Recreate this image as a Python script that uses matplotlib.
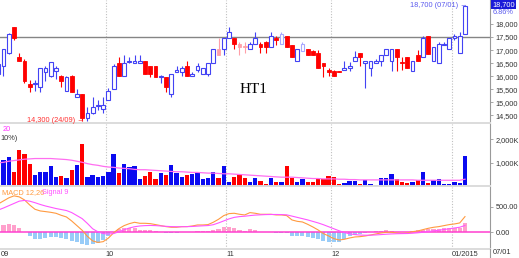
import numpy as np
import matplotlib
matplotlib.use("Agg")
import matplotlib.pyplot as plt
from matplotlib.lines import Line2D

# daily bars, first one is cut by the left edge
opens = [16100, 16400, 16900, 17900, 16750, 16600, 15700, 15700, 15600, 16150,
         16000, 16200, 16000, 15450, 16000, 15200, 15300, 14400, 14600, 14850,
         14750, 15100, 15500, 16500, 16000, 16550, 16500, 16500, 16600, 16400,
         16400, 15950, 15950, 15300, 16150, 16150, 16400, 16000, 16250, 16100,
         16100, 16500, 17050, 17050, 17450, 17450, 17250, 17150, 17050, 17250,
         17250, 17300, 17100, 17450, 17250, 17550, 17200, 16600, 16950, 17050,
         16950, 16900, 16500, 16250, 16200, 16200, 16250, 16300, 16600, 16900,
         16500, 16300, 16500, 16600, 16800, 16600, 17050, 16550, 16750, 16200,
         16800, 16750, 17550, 16600, 16500, 17200, 17050, 17450, 16900, 17600]
highs = [16500, 17050, 17650, 17900, 16900, 16650, 15850, 15850, 16300, 16400,
         16550, 16400, 16050, 16000, 16050, 15500, 15300, 14800, 15200, 15100,
         15200, 15550, 16450, 16750, 16800, 16750, 16800, 16800, 16600, 16400,
         16400, 16050, 15950, 16100, 16400, 16400, 16600, 16150, 16500, 16300,
         16500, 17050, 17450, 17450, 17900, 17450, 17300, 17300, 17300, 17700,
         17300, 17350, 17700, 17550, 17700, 17550, 17200, 17050, 17300, 17050,
         17000, 17000, 16500, 16300, 16250, 16200, 16600, 16550, 16950, 16900,
         16600, 16600, 16650, 16800, 17050, 17050, 17050, 16750, 16750, 16600,
         17000, 17550, 17550, 17100, 17300, 17300, 17450, 17600, 17700, 18700]
lows = [16000, 16000, 16850, 17400, 16600, 15750, 15400, 15450, 15400, 15800,
        15950, 15900, 15600, 15450, 15400, 15200, 14300, 14300, 14550, 14700,
        14600, 15100, 15500, 16000, 16000, 16500, 16500, 16500, 16100, 15950,
        15950, 15750, 15400, 15200, 16150, 16000, 16000, 16000, 16150, 16100,
        16000, 16500, 16800, 16800, 17450, 17050, 16800, 16900, 17050, 17250,
        16900, 16900, 17100, 17200, 17250, 17100, 16750, 16600, 16950, 16800,
        16800, 16300, 15950, 16000, 16000, 16150, 16250, 16200, 16600, 16400,
        15550, 16000, 16500, 16400, 16800, 16200, 16200, 16250, 16300, 16200,
        16600, 16750, 16850, 16600, 16500, 17200, 17050, 17400, 16900, 17600]
closes = [16450, 17050, 17600, 17450, 16600, 15800, 15600, 15750, 16300, 16300,
          16550, 16300, 15800, 15950, 15400, 15300, 14400, 14600, 14800, 14900,
          14900, 15450, 16400, 16000, 16500, 16600, 16600, 16600, 16100, 16100,
          15950, 16000, 15600, 16100, 16250, 16300, 16000, 16100, 16400, 16300,
          16500, 17050, 16800, 17450, 17700, 17250, 17100, 17100, 17250, 17450,
          17100, 17100, 17550, 17400, 17600, 17100, 16750, 17050, 17250, 16800,
          16800, 16300, 16400, 16150, 16000, 16150, 16300, 16400, 16750, 16750,
          16600, 16600, 16600, 16800, 17050, 17050, 16750, 16500, 16300, 16600,
          16600, 17450, 16850, 17100, 17250, 17250, 17450, 17550, 17550, 18700]
volume_k = [1377, 1130, 1246, 594, 1536, 1377, 957, 478, 580, 609,
            840, 391, 435, 333, 667, 913, 1783, 377, 478, 406,
            435, 580, 1362, 551, 957, 812, 870, 304, 435, 594,
            304, 551, 478, 913, 551, 406, 478, 522, 580, 290,
            362, 594, 362, 840, 188, 406, 522, 362, 188, 333,
            217, 87, 333, 188, 188, 840, 333, 188, 304, 188,
            159, 304, 304, 435, 406, 87, 116, 217, 217, 87,
            261, 87, 43, 362, 362, 522, 304, 188, 116, 159,
            246, 594, 116, 261, 304, 87, 87, 188, 116, 1275]
volume_ma20 = [985, 1014, 1058, 1087, 1116, 1145, 1159, 1174, 1174, 1174,
               1174, 1159, 1145, 1130, 1101, 1058, 1014, 956, 913, 884,
               840, 811, 797, 768, 753, 739, 710, 696, 696, 681,
               667, 652, 638, 623, 609, 609, 594, 580, 580, 565,
               551, 551, 536, 522, 522, 507, 493, 478, 464, 449,
               435, 420, 406, 391, 377, 377, 377, 362, 348, 333,
               319, 319, 304, 304, 304, 290, 290, 275, 275, 261,
               261, 261, 261, 261, 261, 261, 261, 261, 261, 261,
               246, 246, 246, 246, 246, 246, 246, 246, 246, 290]
macd_line = [560, 620, 680, 720, 700, 640, 540, 455, 422, 409,
             395, 376, 336, 303, 224, 132, 40, -80, -170, -200,
             -185, -115, -10, 72, 132, 171, 198, 178, 178, 171,
             152, 132, 112, 99, 99, 112, 112, 125, 145, 145,
             152, 198, 257, 330, 369, 376, 356, 343, 389, 376,
             356, 356, 356, 343, 343, 330, 244, 217, 204, 158,
             105, 46, -26, -72, -125, -152, -138, -112, -92, -86,
             -72, -53, -33, -13, 0, 0, -13, -20, -13, 13,
             26, 53, 79, 99, 112, 132, 152, 165, 185, 310]
signal_line = [440, 480, 525, 570, 615, 630, 615, 585, 550, 520,
               495, 470, 450, 430, 390, 330, 270, 175, 70, 10,
               -25, -35, -25, 10, 50, 85, 110, 125, 132, 135,
               132, 125, 118, 112, 110, 110, 112, 115, 122, 128,
               133, 150, 185, 225, 265, 295, 310, 318, 330, 340,
               345, 350, 352, 352, 350, 345, 320, 295, 270, 245,
               215, 185, 150, 110, 70, 30, -5, -30, -45, -55,
               -58, -57, -52, -45, -38, -32, -28, -26, -24, -18,
               -10, 0, 15, 28, 40, 55, 70, 85, 100, 135]
faded = [42, 46, 47, 54, 58]
month_labels = ["09", "10", "11", "12", "01/2015"]
month_first_bar = [0, 20, 43, 63, 86]
price_ticks = [14500, 15000, 15500, 16000, 16500, 17000, 17500, 18000]
ref_price = 17500
low_bar, low_text = 16, "14,300 (24/09) \u2192"
high_bar, high_text = 89, "18,700 (07/01) \u2192"

opens = np.array(opens, float)
highs = np.array(highs, float)
lows = np.array(lows, float)
closes = np.array(closes, float)
macd_line = np.array(macd_line, float)
signal_line = np.array(signal_line, float)
hist = macd_line - signal_line
x = np.arange(len(closes)) - 1
up = closes >= opens

blue = "#4343f4"
red = "#ff0000"
body_w = 0.72

W, H = 519, 258
fig = plt.figure(figsize=(W / 100, H / 100), dpi=100)
right = 490 / W
ax = fig.add_axes([0, 1 - 123 / H, right, 123 / H])
axv = fig.add_axes([0, 1 - 186 / H, right, 62 / H], sharex=ax)
axm = fig.add_axes([0, 1 - 249 / H, right, 62 / H], sharex=ax)

fs = 5.3
tick_font = "Liberation Sans"

# candles
wick_cols = []
for i in range(len(x)):
    f = (i in faded)
    if up[i]:
        wick_cols.append("#a8a8ff" if f else blue)
    else:
        wick_cols.append("#ff9fa8" if f else red)
ax.vlines(x, lows, highs, colors=wick_cols, lw=0.8, zorder=2)
for i in range(len(x)):
    f = (i in faded)
    if up[i]:
        ax.bar(x[i], max(closes[i] - opens[i], 1), bottom=opens[i], width=body_w,
               facecolor="white", edgecolor=("#a8a8ff" if f else blue), lw=0.8, zorder=3)
    else:
        c = "#ff9fa8" if f else red
        ax.bar(x[i], max(opens[i] - closes[i], 1), bottom=closes[i], width=body_w,
               facecolor=c, edgecolor=c, lw=0.6, zorder=3)
ax.axhline(ref_price, color="#858585", lw=1.0, zorder=1)

ax.text(low_bar - 0.55, lows[low_bar], low_text, color="#ff3030", fontsize=fs,
        family=[tick_font, "DejaVu Sans"], ha="right", va="center")
ax.text(high_bar - 0.55, highs[high_bar], high_text, color="#5a5aee", fontsize=fs,
        family=[tick_font, "DejaVu Sans"], ha="right", va="center")
ax.text(45.1, 15500, "HT1", family="Liberation Serif", fontsize=11, color="black",
        ha="left", va="center")

ax.set_ylim(14205, 18920)
ax.set_yticks(price_ticks)
ax.set_yticklabels([f"{v:,}" for v in price_ticks])

# volume
vcol = ["#0a0af0" if u else red for u in up]
axv.bar(x, volume_k, width=0.82, color=vcol, zorder=2)
axv.plot(x, volume_ma20, color="#ff6ef0", lw=0.9, zorder=3)
axv.set_ylim(0, 2650)
axv.set_yticks([1000, 2000])
axv.set_yticklabels(["1,000K", "2,000K"])
axv.text(3 / 490, 0.97, "20", transform=axv.transAxes, color="#ff33ff", fontsize=fs,
         family=tick_font, ha="left", va="top")
axv.text(0.0, 0.83, "10%)", transform=axv.transAxes, color="#333333", fontsize=fs,
         family=tick_font, ha="left", va="top")

# macd
hcol = ["#ffa0cc" if h >= 0 else "#98ccf8" for h in hist]
axm.bar(x, hist, width=0.78, color=hcol, zorder=2)
axm.axhline(0, color="#ff3fd0", lw=1.1, zorder=3)
axm.plot(x, macd_line, color="#ff9a40", lw=0.8, zorder=4)
axm.plot(x, signal_line, color="#ff55ff", lw=0.8, zorder=4)
axm.set_ylim(-330, 895)
axm.set_yticks([0, 500])
axm.set_yticklabels(["0.00", "500.00"])
axm.text(2 / 490, 0.97, "MACD 12,26", transform=axm.transAxes, color="#ff9a40",
         fontsize=fs, family=tick_font, ha="left", va="top")
axm.text(42 / 490, 0.97, "Signal 9", transform=axm.transAxes, color="#ff55ff",
         fontsize=fs, family=tick_font, ha="left", va="top")

grid_pos = [m - 0.5 for m in month_first_bar]
for a in (ax, axv, axm):
    for g in grid_pos[1:]:
        a.axvline(g, color="#c0c0c0", lw=0.8, ls=(0, (1, 1.5)), zorder=0)
    a.set_xlim(-0.667, 92.77)
    for s in ("top", "left"):
        a.spines[s].set_visible(False)
    a.spines["right"].set_color("#9a9a9a")
    a.spines["right"].set_linewidth(0.8)
    a.spines["bottom"].set_color("#dcdcdc")
    a.spines["bottom"].set_linewidth(1.4)
    a.yaxis.tick_right()
    a.tick_params(axis="y", direction="out", length=2.5, width=0.6, color="#9a9a9a",
                  pad=1.5, labelsize=fs, labelcolor="#333333")
    for lab in a.get_yticklabels():
        lab.set_family(tick_font)
    a.tick_params(axis="x", length=0, labelbottom=False)

axm.tick_params(axis="x", labelbottom=True, pad=1.5, labelsize=fs, labelcolor="#333333")
axm.set_xticks(grid_pos)
axm.set_xticklabels(month_labels, ha="left", family=tick_font)

fig.text(493 / W, 1 - 252.5 / H, "07/01", fontsize=fs, family=tick_font,
         color="#333333", ha="left", va="center")
fig.add_artist(Line2D([right, right], [0, 1 - 249 / H], transform=fig.transFigure,
                      color="#9a9a9a", lw=0.8))

# last price box
fig.text(492 / W, 1 - 4.5 / H, f"{closes[-1]:,.0f}", fontsize=fs, family=tick_font,
         color="white", ha="left", va="center",
         bbox=dict(boxstyle="square,pad=0.2", fc="#1a1ad8", ec="none"))
fig.text(493 / W, 1 - 13 / H, "6.86%", fontsize=fs, family=tick_font,
         color="#5a5aee", ha="left", va="center")

fig.savefig("out.png", dpi=100, facecolor="white")
